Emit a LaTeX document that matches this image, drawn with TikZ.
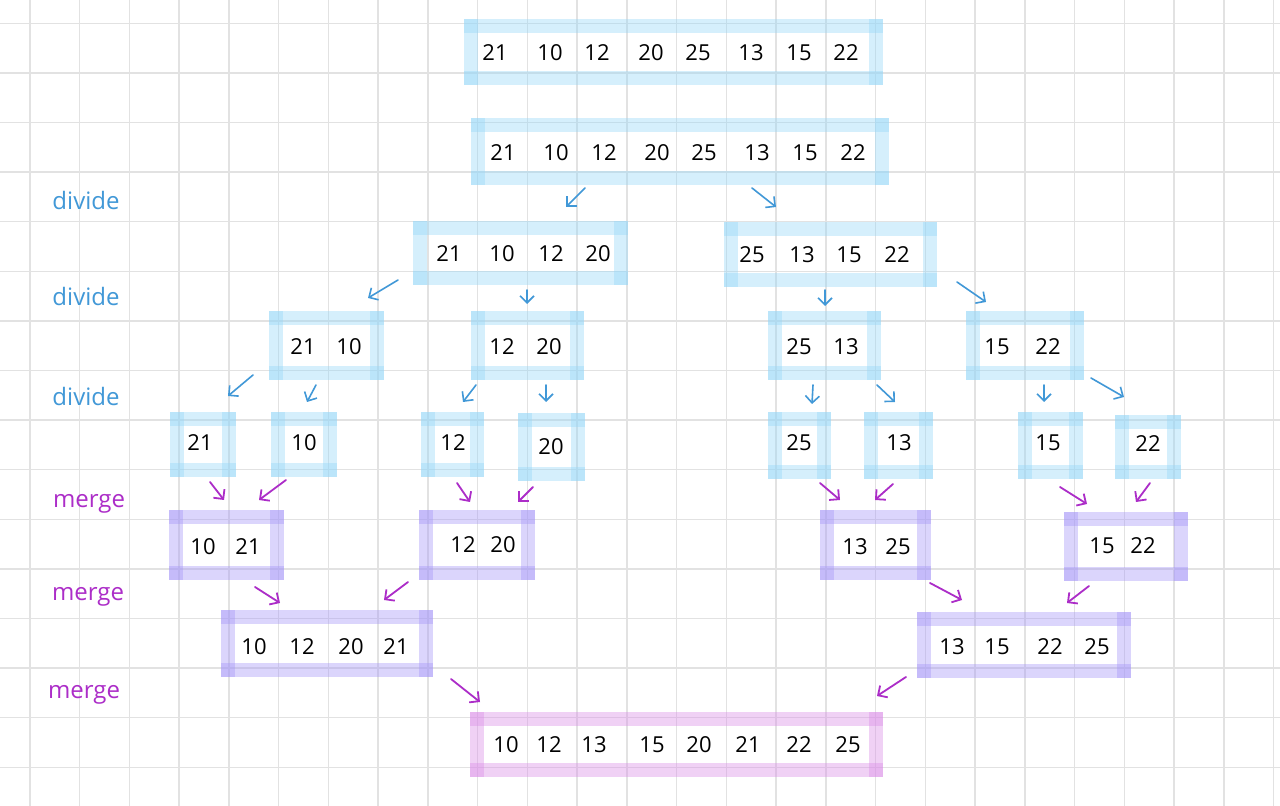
\documentclass[tikz,border=0pt]{standalone}
\usepackage{fontspec}
\setmainfont{Open Sans}
\usetikzlibrary{arrows.meta,fit}
\definecolor{gridc}{RGB}{226,226,226}
\definecolor{hlblue}{RGB}{150,215,248}
\definecolor{hlpurple}{RGB}{165,150,248}
\definecolor{hlpink}{RGB}{218,140,232}
\definecolor{arrblue}{RGB}{65,152,215}
\definecolor{arrpurple}{RGB}{172,45,200}
\tikzset{
  gridline/.style={draw=gridc, line width=0.75pt},
  hlb/.style={draw=hlblue, line width=7pt, line cap=rect, opacity=0.4},
  hlp/.style={draw=hlpurple, line width=7pt, line cap=rect, opacity=0.4},
  hlk/.style={draw=hlpink, line width=7pt, line cap=rect, opacity=0.4},
  boxnode/.style={inner sep=0pt, outer sep=0pt},
  num/.style={font=\fontsize{11}{13}\selectfont, text=black, inner sep=0pt},
  lbl/.style={font=\fontsize{12}{14}\selectfont, inner sep=0pt},
  barrow/.style={draw=arrblue, line width=0.8pt, line cap=round, -{Straight Barb[length=3.5pt,width=7pt]}},
  parrow/.style={draw=arrpurple, line width=0.9pt, line cap=round, -{Straight Barb[length=3.5pt,width=7pt]}},
}
\begin{document}
\begin{tikzpicture}[x=0.5pt,y=-0.5pt]
\useasboundingbox (0,0) rectangle (1280,806);
\fill[white] (0,0) rectangle (1280,806);
% grid
\foreach \i in {0,...,25} \draw[gridline] (29.8+49.75*\i,0) -- (29.8+49.75*\i,806);
\foreach \j in {0,...,15} \draw[gridline] (0,23.3+49.6*\j) -- (1280,23.3+49.6*\j);

% boxes: blue (divide)
\foreach \n/\a/\b/\c/\d in {b0/471/26/876/78, b1/478/125/882/178, l1/420/228/621/278, r1/731/229/930/280,
  l2a/276/318/377/373, l2b/478/318/577/373, r2a/775/318/874/373, r2b/973/318/1077/373,
  s1/177/419/229/470, s2/278/419/330/470, s3/428/419/477/470, s4/525/420/578/474,
  s5/775/419/824/472, s6/871/419/926/472, s7/1025/419/1076/472, s8/1122/422/1174/472}{
  \coordinate (\n-p) at (\a,\b); \coordinate (\n-q) at (\c,\d);
  \node[boxnode, fit=(\n-p)(\n-q)] (\n) {};
  \draw[hlb] (\n.north west) -- (\n.north east);
  \draw[hlb] (\n.south west) -- (\n.south east);
  \draw[hlb] (\n.north west) -- (\n.south west);
  \draw[hlb] (\n.north east) -- (\n.south east);
}
% boxes: purple (merge)
\foreach \n/\a/\b/\c/\d in {m1/176/517/277/573, m2/426/517/528/573, m3/827/517/924/573, m4/1071/519/1181/574,
  n1/228/617/426/670, n2/924/619/1124/671}{
  \coordinate (\n-p) at (\a,\b); \coordinate (\n-q) at (\c,\d);
  \node[boxnode, fit=(\n-p)(\n-q)] (\n) {};
  \draw[hlp] (\n.north west) -- (\n.north east);
  \draw[hlp] (\n.south west) -- (\n.south east);
  \draw[hlp] (\n.north west) -- (\n.south west);
  \draw[hlp] (\n.north east) -- (\n.south east);
}
% final box
\coordinate (f-p) at (477,719); \coordinate (f-q) at (876,770);
\node[boxnode, fit=(f-p)(f-q)] (f) {};
\draw[hlk] (f.north west) -- (f.north east);
\draw[hlk] (f.south west) -- (f.south east);
\draw[hlk] (f.north west) -- (f.south west);
\draw[hlk] (f.north east) -- (f.south east);

% numbers
\foreach \x/\t [count=\k] in {495/21,550/10,597/12,651/20,698/25,751/13,799/15,846/22}
  \node[num] (b0-\k) at (\x,53) {\t};
\foreach \x/\t [count=\k] in {503/21,556/10,604/12,657/20,704/25,757/13,805/15,853/22}
  \node[num] (b1-\k) at (\x,153) {\t};
\foreach \x/\t [count=\k] in {449/21,502/10,551/12,598/20}
  \node[num] (l1-\k) at (\x,254) {\t};
\foreach \x/\t [count=\k] in {752/25,802/13,849/15,897/22}
  \node[num] (r1-\k) at (\x,255) {\t};
\foreach \x/\t/\nm in {303/21/l2a1,349/10/l2a2,502/12/l2b1,549/20/l2b2,799/25/r2a1,846/13/r2a2,997/15/r2b1,1048/22/r2b2}
  \node[num] (\nm) at (\x,347) {\t};
\foreach \x/\y/\t [count=\k] in {200/443/21,304/443/10,453/443/12,551/447/20,799/443/25,899/443/13,1048/443/15,1148/444/22}
  \node[num] (sn\k) at (\x,\y) {\t};
\foreach \x/\y/\t/\nm in {203/547/10/m1a,248/547/21/m1b,463/545/12/m2a,503/545/20/m2b,855/547/13/m3a,898/547/25/m3b,1102/546/15/m4a,1143/546/22/m4b}
  \node[num] (\nm) at (\x,\y) {\t};
\foreach \x/\t [count=\k] in {254/10,302/12,351/20,396/21}
  \node[num] (n1-\k) at (\x,647) {\t};
\foreach \x/\t [count=\k] in {952/13,997/15,1050/22,1097/25}
  \node[num] (n2-\k) at (\x,647) {\t};
\foreach \x/\t [count=\k] in {506/10,549/12,594/13,652/15,699/20,748/21,799/22,848/25}
  \node[num] (f-\k) at (\x,745) {\t};

% labels
\node[lbl, text=arrblue] (d1) at (86,201) {divide};
\node[lbl, text=arrblue] (d2) at (86,297) {divide};
\node[lbl, text=arrblue] (d3) at (86,397) {divide};
\node[lbl, text=arrpurple] (g1) at (89,504) {merge};
\node[lbl, text=arrpurple] (g2) at (88,597) {merge};
\node[lbl, text=arrpurple] (g3) at (84,695) {merge};

% divide arrows
\foreach \sx/\sy/\ex/\ey [count=\k] in {585/188/566/207, 752/188/776/207, 398/280/368/298, 527/290/527/304,
  825/290/825/306, 957/282/986/302, 253/375/228/396, 316/385/307/402, 476/385/463/402, 546/385/546/402,
  813/385/812/404, 877/385/895/402, 1044/385/1044/402, 1091/378/1124/397}{
  \coordinate (da\k s) at (\sx,\sy); \coordinate (da\k e) at (\ex,\ey);
  \draw[barrow] (da\k s) -- (da\k e);
}
% merge arrows
\foreach \sx/\sy/\ex/\ey [count=\k] in {210/482/224/500, 286/480/259/500, 457/483/470/502, 533/487/518/502,
  820/483/840/500, 893/484/875/500, 1060/487/1087/504, 1150/483/1136/502,
  255/587/280/603, 408/582/384/600, 930/583/962/600, 1089/586/1067/603,
  451/679/480/702, 906/677/877/696}{
  \coordinate (ma\k s) at (\sx,\sy); \coordinate (ma\k e) at (\ex,\ey);
  \draw[parrow] (ma\k s) -- (ma\k e);
}
\end{tikzpicture}
\end{document}
